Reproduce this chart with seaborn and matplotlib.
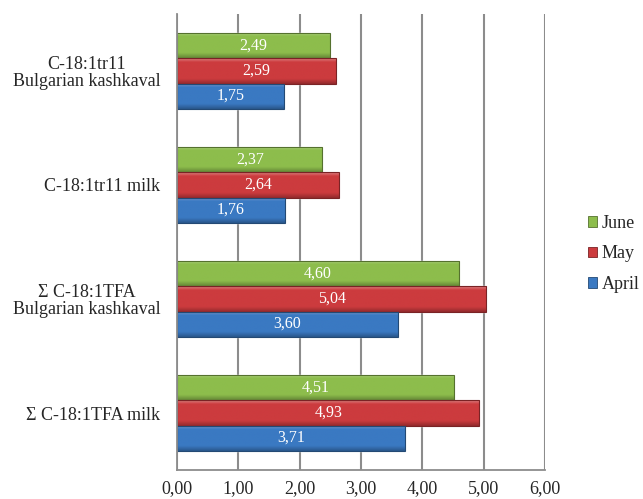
import numpy as np
import pandas as pd
import matplotlib
matplotlib.use("Agg")
import matplotlib.pyplot as plt
import matplotlib.colors as mcolors
from matplotlib.patches import Rectangle
import seaborn as sns

categories = [
    "C-18:1tr11\nBulgarian kashkaval",
    "C-18:1tr11 milk",
    "\u03a3 C-18:1TFA\nBulgarian kashkaval",
    "\u03a3 C-18:1TFA milk",
]
months = ["June", "May", "April"]
june = [2.49, 2.37, 4.60, 4.51]
may = [2.59, 2.64, 5.04, 4.93]
april = [1.75, 1.76, 3.60, 3.71]
x_ticks = [0, 1, 2, 3, 4, 5, 6]

palette = {"June": "#8dbd4c", "May": "#cc3b3e", "April": "#3a79c2"}

df = pd.DataFrame({
    "category": categories * 3,
    "month": ["June"] * 4 + ["May"] * 4 + ["April"] * 4,
    "value": june + may + april,
})

sns.set_style("white")
plt.rcParams["font.family"] = ["Liberation Serif", "DejaVu Serif"]

fig = plt.figure(figsize=(6.43, 4.99), dpi=100)
ax = fig.add_axes([0.2753, 0.0581, 0.8476 - 0.2753, 0.972 - 0.0581])

sns.barplot(data=df, y="category", x="value", hue="month",
            order=categories, hue_order=months, palette=palette,
            orient="h", width=0.66, gap=0.0, ax=ax, legend=False,
            saturation=1.0, errorbar=None)

ax.set_xlim(0, 6)
ax.set_ylim(len(categories) - 0.5, -0.5)
ax.set_xticks(x_ticks)
ax.set_xticklabels([f"{v:.2f}".replace(".", ",") for v in x_ticks], fontsize=13)
ax.set_yticks(range(len(categories)))
ax.set_yticklabels(categories, fontsize=13, linespacing=1.0, multialignment="center")
ax.set_xlabel("")
ax.set_ylabel("")

ax.xaxis.grid(True, color="#8c8c8c", linewidth=1.5)
ax.set_axisbelow(True)
for s in ["top", "right"]:
    ax.spines[s].set_visible(False)
for s in ["left", "bottom"]:
    ax.spines[s].set_color("#8c8c8c")
    ax.spines[s].set_linewidth(1.3)

ax.tick_params(axis="y", which="major", length=0, pad=12)
ax.set_yticks(np.arange(-0.5, len(categories), 1.0), minor=True)
ax.tick_params(axis="y", which="minor", length=6, width=1.3, color="#8c8c8c", direction="out")
ax.tick_params(axis="x", which="major", length=5, width=1.3, color="#8c8c8c", direction="out", pad=2)

# Shaded fill for each bar with a light top edge and darker bottom edge
grad = np.linspace(0, 1, 64)
for cont in ax.containers:
    for bar in cont:
        base = np.array(mcolors.to_rgb(bar.get_facecolor()))
        light = np.clip(base + (1 - base) * 0.35, 0, 1)
        dark = base * 0.72
        cols = []
        for t in grad:
            if t < 0.15:
                c = light + (base - light) * (t / 0.15)
            elif t < 0.8:
                c = base
            else:
                c = base + (dark - base) * ((t - 0.8) / 0.2)
            cols.append(c)
        img = np.array(cols).reshape(-1, 1, 3)
        x0, y0 = bar.get_x(), bar.get_y()
        w, h = bar.get_width(), bar.get_height()
        im = ax.imshow(img, extent=[x0, x0 + w, y0 + h, y0], aspect="auto",
                       zorder=bar.get_zorder() + 0.1, interpolation="bilinear")
        im.set_clip_path(bar)
        ax.add_patch(Rectangle((x0, y0), w, h, fill=False,
                               edgecolor=tuple(base * 0.6), linewidth=0.8,
                               zorder=bar.get_zorder() + 0.2))
    labels = [f"{b.get_width():.2f}".replace(".", ",") for b in cont]
    ax.bar_label(cont, labels=labels, label_type="center", color="white",
                 fontsize=11.5, zorder=10)

ax.set_xlim(0, 6)
ax.set_ylim(len(categories) - 0.5, -0.5)

handles = [Rectangle((0, 0), 1, 1, facecolor=palette[m],
                     edgecolor=tuple(np.array(mcolors.to_rgb(palette[m])) * 0.6),
                     linewidth=0.6) for m in months]
fig.legend(handles, months, loc="center left", bbox_to_anchor=(0.889, 0.491),
           frameon=False, fontsize=13, handlelength=0.5, handleheight=0.5,
           handletextpad=0.25, labelspacing=0.75, borderpad=0.4)

fig.savefig("out.png", dpi=100)
